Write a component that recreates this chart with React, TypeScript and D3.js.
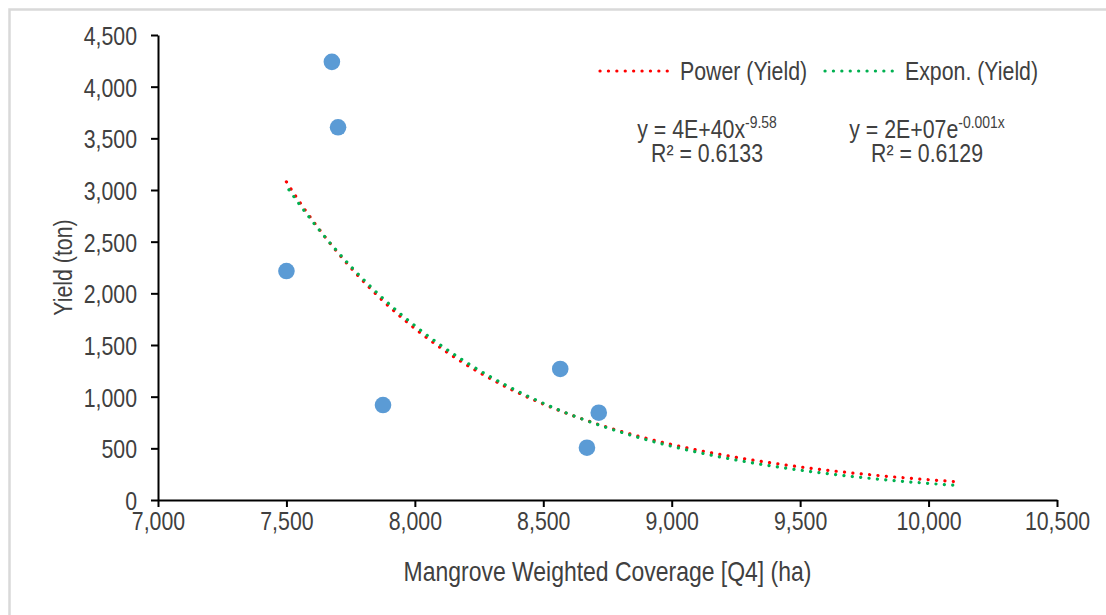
import React, { useRef, useEffect } from 'react';
import * as d3 from 'd3';

// coverage (ha) and yield (ton)
const coverage = [7677, 7701, 7500, 7876, 8566, 8716, 8670];
const yieldTon = [4240, 3607, 2216, 919, 1268, 845, 506];
const xTicks = [7000, 7500, 8000, 8500, 9000, 9500, 10000, 10500];
const yTicks = [0, 500, 1000, 1500, 2000, 2500, 3000, 3500, 4000, 4500];
const forecastForward = 1400;
const legendItems = ['Power (Yield)', 'Expon. (Yield)'];

const FONT = '"Liberation Sans", Arial, sans-serif';
const TEXT = '#404040';
const SX = 0.82; // no Arial Narrow here, so squeeze Liberation Sans

const App = () => {
  const svgRef = useRef(null);

  useEffect(() => {
    const width = 1106;
    const height = 615;
    const margin = { top: 35, right: 49, bottom: 115, left: 158 };
    const svg = d3.select(svgRef.current);
    svg.selectAll('*').remove();

    // outer chart border
    svg.append('rect')
      .attr('x', 9.5).attr('y', 9.5)
      .attr('width', width + 20).attr('height', height + 20)
      .style('fill', '#fff').style('stroke', '#d9d9d9').style('stroke-width', 2.5);

    const x = d3.scaleLinear().domain([7000, 10500]).range([margin.left, width - margin.right]);
    const y = d3.scaleLinear().domain([0, 4500]).range([height - margin.bottom, margin.top]);

    // least squares fits in log space, like Excel trendlines
    const fit = (xs, ys) => {
      const mx = d3.mean(xs), my = d3.mean(ys);
      let sxy = 0, sxx = 0;
      xs.forEach((v, i) => { sxy += (v - mx) * (ys[i] - my); sxx += (v - mx) * (v - mx); });
      const slope = sxy / sxx;
      return { slope, intercept: my - slope * mx };
    };
    const lnY = yieldTon.map(Math.log);
    const pw = fit(coverage.map(Math.log), lnY);
    const ex = fit(coverage, lnY);
    const powerFn = (v) => Math.exp(pw.intercept) * Math.pow(v, pw.slope);
    const expFn = (v) => Math.exp(ex.intercept + ex.slope * v);

    const x0 = d3.min(coverage);
    const x1 = d3.max(coverage) + forecastForward;
    const xs = d3.range(x0, x1, 10).concat([x1]);

    const line = d3.line().x((d) => x(d[0])).y((d) => y(d[1]));

    const g = svg.append('g');

    // placed text, squeezed horizontally around its anchor
    const label = (px, py, str, anchor = 'start', size = 26) => svg.append('text')
      .attr('transform', `translate(${px},${py}) scale(${SX},1)`)
      .attr('text-anchor', anchor)
      .style('font-family', FONT).style('font-size', `${size}px`).style('fill', TEXT)
      .text(str);

    // axes
    const yAxis = g.append('g').attr('transform', `translate(${margin.left},0)`)
      .call(d3.axisLeft(y).tickValues(yTicks).tickFormat(d3.format(',')).tickSize(7).tickSizeOuter(0));
    const xAxis = g.append('g').attr('transform', `translate(0,${height - margin.bottom})`)
      .call(d3.axisBottom(x).tickValues(xTicks).tickFormat(d3.format(',')).tickSize(7).tickSizeOuter(0));
    [yAxis, xAxis].forEach((a) => {
      a.select('.domain').style('stroke', '#000').style('stroke-width', 2);
      a.selectAll('.tick line').style('stroke', '#000').style('stroke-width', 2);
      a.selectAll('.tick text').style('font-family', FONT).style('font-size', '26px').style('fill', TEXT)
        .attr('transform', `scale(${SX},1)`);
    });
    yAxis.selectAll('.tick text').attr('x', -21 / SX).attr('dy', '0.36em');
    xAxis.selectAll('.tick text').attr('y', 12).attr('dy', '0.71em');

    // trendlines
    const dotted = (sel, color) => sel
      .style('fill', 'none').style('stroke', color).style('stroke-width', 3.2)
      .style('stroke-linecap', 'round').style('stroke-dasharray', '0.1 8.3');
    g.append('path').datum(xs.map((v) => [v, powerFn(v)])).attr('d', line).call(dotted, '#ff0000');
    g.append('path').datum(xs.map((v) => [v, expFn(v)])).attr('d', line)
      .style('stroke-dashoffset', 4).call(dotted, '#00b050');

    // points
    g.selectAll('circle.pt').data(coverage).enter().append('circle')
      .attr('class', 'pt')
      .attr('cx', (d) => x(d))
      .attr('cy', (d, i) => y(yieldTon[i]))
      .attr('r', 8.3)
      .style('fill', '#5b9bd5');

    // axis titles
    label((margin.left + width - margin.right) / 2, 581, 'Mangrove Weighted Coverage [Q4] (ha)', 'middle', 28);
    svg.append('text')
      .attr('transform', `translate(72,${(margin.top + height - margin.bottom) / 2}) rotate(-90) scale(${SX},1)`)
      .attr('text-anchor', 'middle')
      .style('font-family', FONT).style('font-size', '26px').style('fill', TEXT)
      .text('Yield (ton)');

    // legend
    const legendPos = [600, 825];
    const legendColors = ['#ff0000', '#00b050'];
    legendItems.forEach((name, i) => {
      svg.append('line')
        .attr('x1', legendPos[i]).attr('x2', legendPos[i] + 68).attr('y1', 71).attr('y2', 71)
        .call(dotted, legendColors[i]);
      label(legendPos[i] + 80, 80, name);
    });

    // trendline equations
    const eqs = [
      { cx: 707, base: 'y = 4E+40x', sup: '-9.58', r2: 'R² = 0.6133' },
      { cx: 927, base: 'y = 2E+07e', sup: '-0.001x', r2: 'R² = 0.6129' },
    ];
    eqs.forEach((e) => {
      const t = label(e.cx, 138, null, 'middle');
      t.append('tspan').text(e.base);
      t.append('tspan').attr('dy', -10).style('font-size', '17px').text(e.sup);
      label(e.cx, 162, e.r2, 'middle');
    });
  }, []);

  return (
    <svg ref={svgRef} width={1106} height={615}
      style={{ position: 'absolute', left: 0, top: 0, background: '#fff' }} />
  );
};

export default App;
